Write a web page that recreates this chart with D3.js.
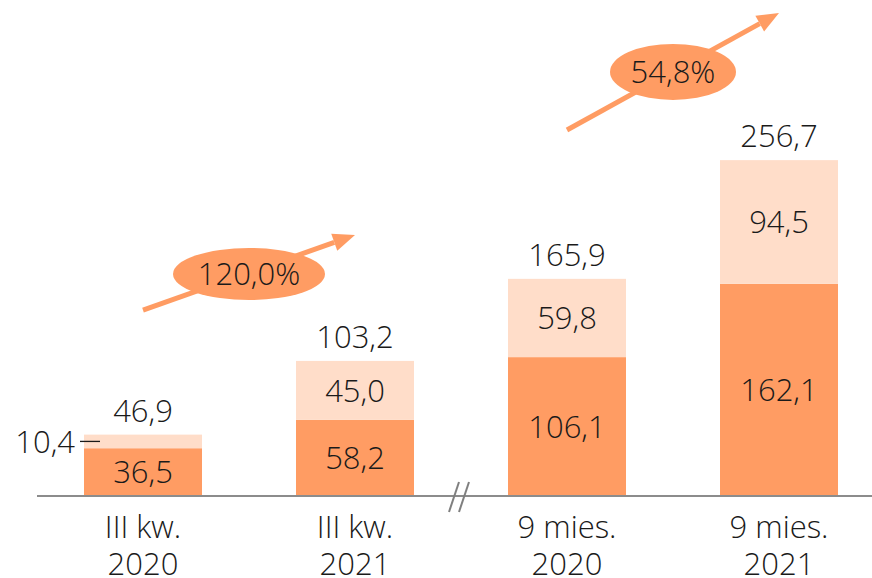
<!DOCTYPE html>
<html><head><meta charset="utf-8">
<script src="https://cdn.jsdelivr.net/npm/d3@7"></script>
<style>
html,body{margin:0;padding:0;background:#fff;}
text{font-family:"Open Sans","Noto Sans",sans-serif;font-weight:300;fill:#1a1a1a;}
</style></head>
<body><svg id="c" width="872" height="578"></svg>
<script>
const categories = [["III kw.","2020"],["III kw.","2021"],["9 mies.","2020"],["9 mies.","2021"]];
const baseValues = [36.5, 58.2, 106.1, 162.1];
const topValues = [10.4, 45.0, 59.8, 94.5];
const totals = [46.9, 103.2, 165.9, 256.7];
const growthLabels = ["120,0%", "54,8%"];
// arrows: [from category index, to category index, start value, end value, ellipse value]
const growthArrows = [[0,1,142,199.4,169.6],[2,3,279.6,369,324]];

const fmt = v => v.toFixed(1).replace(".", ",");
const svg = d3.select("#c");
const keys = categories.map((c,i)=>i);
const x = d3.scaleBand().domain(keys).range([37,885]).paddingInner(94/212).paddingOuter(47/212);
const y = d3.scaleLinear().domain([0,256.7]).range([496,160]);
const dark = "#FF9C63", light = "#FFDDC9";

// bars
svg.selectAll("rect.base").data(baseValues).join("rect")
  .attr("x",(d,i)=>x(i)).attr("width",x.bandwidth())
  .attr("y",d=>y(d)).attr("height",d=>y(0)-y(d)).attr("fill",dark);
svg.selectAll("rect.top").data(topValues).join("rect")
  .attr("x",(d,i)=>x(i)).attr("width",x.bandwidth())
  .attr("y",(d,i)=>y(baseValues[i]+d)).attr("height",(d,i)=>y(baseValues[i])-y(baseValues[i]+d)).attr("fill",light);

// axis line
svg.append("line").attr("x1",37).attr("x2",872).attr("y1",y(0)).attr("y2",y(0))
  .attr("stroke","#8c8c8c").attr("stroke-width",2);
// break marks
const bx = (x(1)+x.bandwidth()+x(2))/2;
[-5,5].forEach(o=>{
  svg.append("line").attr("x1",bx+o-7).attr("y1",y(0)+16).attr("x2",bx+o+3).attr("y2",y(0)-14)
    .attr("stroke","#7f7f7f").attr("stroke-width",2);
});

const fs = 31;
// segment labels
svg.selectAll("text.bl").data(baseValues).join("text")
  .attr("x",(d,i)=>x(i)+x.bandwidth()/2).attr("y",d=>(y(0)+y(d))/2)
  .attr("dy","0.36em").attr("text-anchor","middle").attr("font-size",fs).text(fmt);
svg.selectAll("text.tl").data(topValues).join("text")
  .filter((d,i)=>i>0)
  .attr("x",(d,i)=>x(i+1)+x.bandwidth()/2).attr("y",(d,i)=>(y(baseValues[i+1])+y(baseValues[i+1]+d))/2)
  .attr("dy","0.36em").attr("text-anchor","middle").attr("font-size",fs).text(fmt);
// small first top label with leader
svg.append("text").attr("x",x(0)-9).attr("y",(y(baseValues[0])+y(totals[0]))/2)
  .attr("dy","0.36em").attr("text-anchor","end").attr("font-size",fs).text(fmt(topValues[0]));
svg.append("line").attr("x1",x(0)-4).attr("x2",x(0)+16)
  .attr("y1",(y(baseValues[0])+y(totals[0]))/2).attr("y2",(y(baseValues[0])+y(totals[0]))/2)
  .attr("stroke","#1a1a1a").attr("stroke-width",1.3);
// totals
svg.selectAll("text.tot").data(totals).join("text")
  .attr("x",(d,i)=>x(i)+x.bandwidth()/2).attr("y",d=>y(d)-13)
  .attr("text-anchor","middle").attr("font-size",fs).text(fmt);
// categories
categories.forEach((c,i)=>{
  c.forEach((t,j)=>{
    svg.append("text").attr("x",x(i)+x.bandwidth()/2).attr("y",y(0)+42+j*37)
      .attr("text-anchor","middle").attr("font-size",fs).text(t);
  });
});

// growth arrows
growthArrows.forEach((a,k)=>{
  const x1 = x(a[0])+x.bandwidth()/2, x2 = x(a[1])+x.bandwidth()/2;
  const y1 = y(a[2]), y2 = y(a[3]);
  const ang = Math.atan2(y2-y1,x2-x1);
  const hl = 22, hw = 9;
  const bxp = x2 - hl*Math.cos(ang), byp = y2 - hl*Math.sin(ang);
  svg.append("line").attr("x1",x1).attr("y1",y1).attr("x2",bxp).attr("y2",byp)
    .attr("stroke",dark).attr("stroke-width",5);
  const px = -Math.sin(ang), py = Math.cos(ang);
  svg.append("path").attr("d",`M${x2},${y2}L${bxp+px*hw},${byp+py*hw}L${bxp-px*hw},${byp-py*hw}Z`).attr("fill",dark);
  const cx = (x1+x2)/2, cy = y(a[4]);
  const rx = k===0?76:63, ry = k===0?26:28;
  svg.append("ellipse").attr("cx",cx).attr("cy",cy).attr("rx",rx).attr("ry",ry).attr("fill",dark);
  svg.append("text").attr("x",cx).attr("y",cy).attr("dy","0.36em").attr("text-anchor","middle")
    .attr("font-size",fs).text(growthLabels[k]);
});
</script></body></html>
